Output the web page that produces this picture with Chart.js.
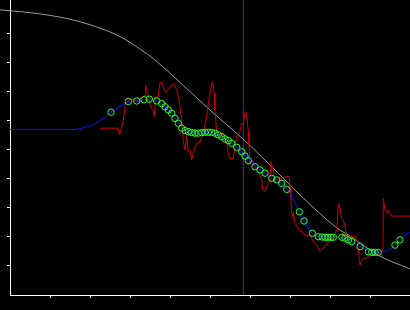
<!DOCTYPE html>
<html>
<head>
<meta charset="utf-8">
<script src="https://cdn.jsdelivr.net/npm/chart.js@4.4.1/dist/chart.umd.min.js"></script>
<style>
html,body{margin:0;padding:0;background:#000;}
#wrap{width:410px;height:310px;position:relative;background:#000;}
</style>
</head>
<body>
<div id="wrap"><canvas id="c"></canvas></div>
<script>
// Reference (gray) curve
const grayX = [-0.25,0.25,0.75,1.25,1.75,2.25,2.75,3.25,3.625,4.375,5.075,5.825,6.5,7.25,8.175,8.5,8.75,9.25,10];
const grayY = [9.83,9.77,9.69,9.58,9.42,9.20,8.91,8.48,8.10,7.17,6.28,5.38,4.48,3.45,2.31,2.03,1.79,1.34,0.90];

// Smoothed (blue) curve
const blueX = [0,1.625,1.875,2.125,2.525,2.925,3.175,3.425,3.675,3.875,4.125,4.375,4.625,4.95,5.2,5.45,5.825,6.25,6.667,6.925,7.25,7.55,7.875,8.375,8.75,9.15,9.5,9.75,10];
const blueY = [5.71,5.71,5.79,5.90,6.30,6.62,6.69,6.74,6.69,6.49,6.10,5.67,5.58,5.61,5.52,5.32,4.90,4.31,3.97,3.66,2.86,2.13,2.0,1.96,1.67,1.47,1.59,1.90,2.18];

// Raw (red) series
const redX = [2.25,2.7,2.725,2.75,2.825,2.875,2.925,3.025,3.125,3.2,3.293,3.375,3.393,3.425,3.458,3.525,3.575,3.608,3.638,3.7,3.75,3.8,3.85,3.9,3.95,4.043,4.083,4.168,4.208,4.25,4.293,4.333,4.375,4.418,4.458,4.5,4.543,4.583,4.625,4.668,4.75,4.833,4.918,4.958,5.0,5.043,5.068,5.1,5.125,5.168,5.208,5.25,5.293,5.333,5.375,5.418,5.458,5.5,5.583,5.625,5.668,5.708,5.75,5.793,5.833,5.875,5.913,5.958,5.975,6.0,6.05,6.125,6.208,6.25,6.293,6.318,6.375,6.418,6.458,6.5,6.525,6.583,6.625,6.668,6.75,6.918,6.983,7.0,7.018,7.043,7.068,7.083,7.125,7.2,7.3,7.4,7.5,7.583,7.668,7.75,7.793,7.875,8.0,8.083,8.125,8.168,8.208,8.225,8.25,8.293,8.333,8.375,8.418,8.458,8.5,8.625,8.668,8.708,8.733,8.75,8.793,8.875,8.958,9.043,9.208,9.293,9.325,9.333,9.375,9.418,9.458,9.5,9.543,10];
const redY = [5.75,5.75,5.55,5.55,5.98,6.49,6.67,6.76,6.72,6.66,6.84,6.87,7.24,7.0,6.84,6.45,6.38,6.15,6.83,6.83,7.33,7.33,7.07,6.97,7.07,7.24,7.30,7.07,6.84,6.49,6.03,5.29,5.0,5.46,4.94,5.0,4.66,4.89,5.11,5.23,5.29,5.58,6.15,6.61,6.96,7.30,7.36,6.96,6.38,5.58,5.46,5.46,5.58,5.46,5.34,5.23,4.83,4.71,4.71,5.11,5.46,5.58,5.63,5.92,5.86,6.32,6.28,5.63,5.17,4.48,4.66,4.42,4.25,4.14,3.97,3.62,3.56,3.73,3.85,3.91,4.60,4.25,3.91,3.97,4.02,4.08,4.10,3.73,3.39,2.82,2.70,2.87,2.47,2.31,2.17,2.03,2.07,1.84,1.72,1.49,1.55,1.72,1.84,2.01,2.13,2.24,3.10,3.14,2.99,2.64,2.59,2.36,2.01,1.90,2.01,2.01,1.90,1.61,1.21,1.03,1.21,1.27,1.32,1.38,1.38,1.49,1.49,3.33,2.93,2.82,2.93,2.82,2.72,2.72];

// Sample (green circle) points
const circleX = [2.525,2.958,3.168,3.35,3.483,3.668,3.793,3.875,3.958,4.043,4.125,4.208,4.293,4.375,4.458,4.543,4.625,4.708,4.793,4.875,4.958,5.043,5.125,5.208,5.293,5.375,5.458,5.543,5.668,5.793,5.875,5.958,6.125,6.25,6.375,6.543,6.668,6.793,6.918,7.233,7.35,7.558,7.708,7.8,7.875,7.95,8.025,8.083,8.3,8.375,8.458,8.543,8.75,8.958,9.043,9.125,9.208,9.625,9.75];
const circleY = [6.30,6.67,6.69,6.73,6.75,6.69,6.60,6.49,6.38,6.27,6.09,5.92,5.75,5.67,5.63,5.60,5.58,5.58,5.60,5.61,5.61,5.60,5.58,5.52,5.46,5.38,5.32,5.23,5.09,4.94,4.79,4.63,4.42,4.31,4.20,4.02,3.97,3.85,3.64,2.87,2.55,2.13,2.01,2.0,1.99,1.99,1.99,1.99,1.99,1.96,1.90,1.84,1.67,1.49,1.47,1.47,1.47,1.72,1.90];

// Vertical marker position
const markerX = 5.833;
const yMax = 10.17;

const pts = (xs, ys) => xs.map((x, i) => ({x: x, y: ys[i]}));

const tickColor = ctx => (ctx.tick && ctx.tick.value > 0 && Number.isInteger(ctx.tick.value)) ? '#ffffff' : 'rgba(0,0,0,0)';

new Chart(document.getElementById('c'), {
  type: 'scatter',
  data: {
    datasets: [
      {
        data: pts(circleX, circleY), showLine: false, order: 1,
        pointRadius: 3.2, pointBorderWidth: 1, pointBorderColor: '#22ff22',
        pointBackgroundColor: 'rgba(0,0,0,0)', pointHoverRadius: 3.2
      },
      {
        data: pts(blueX, blueY), showLine: true, order: 2,
        borderColor: '#1010ff', borderWidth: 1, pointRadius: 0,
        cubicInterpolationMode: 'monotone'
      },
      {
        data: pts(redX, redY), showLine: true, order: 3,
        borderColor: '#cc0000', borderWidth: 1, pointRadius: 0, tension: 0
      },
      {
        data: pts(grayX, grayY), showLine: true, order: 4, clip: false,
        borderColor: '#9a9a9a', borderWidth: 1, pointRadius: 0,
        cubicInterpolationMode: 'monotone'
      },
      {
        data: [{x: markerX, y: 0}, {x: markerX, y: yMax}], showLine: true, order: 5,
        borderColor: '#7a1488', borderWidth: 1, pointRadius: 0
      }
    ]
  },
  options: {
    responsive: true,
    maintainAspectRatio: false,
    devicePixelRatio: 1,
    animation: false,
    events: [],
    layout: {padding: 0, autoPadding: false},
    plugins: {legend: {display: false}, tooltip: {enabled: false}},
    scales: {
      x: {
        type: 'linear', min: 0, max: 10,
        ticks: {display: false, stepSize: 1},
        grid: {drawOnChartArea: false, drawTicks: true, tickLength: 3, color: tickColor, lineWidth: 1},
        border: {display: true, color: '#ffffff', width: 1},
        afterFit: s => { s.height = 15; }
      },
      y: {
        type: 'linear', min: 0, max: yMax,
        ticks: {display: false, stepSize: 1},
        grid: {drawOnChartArea: false, drawTicks: true, tickLength: 3, color: tickColor, lineWidth: 1},
        border: {display: true, color: '#ffffff', width: 1},
        afterFit: s => { s.width = 10; }
      }
    }
  }
});
</script>
</body>
</html>
